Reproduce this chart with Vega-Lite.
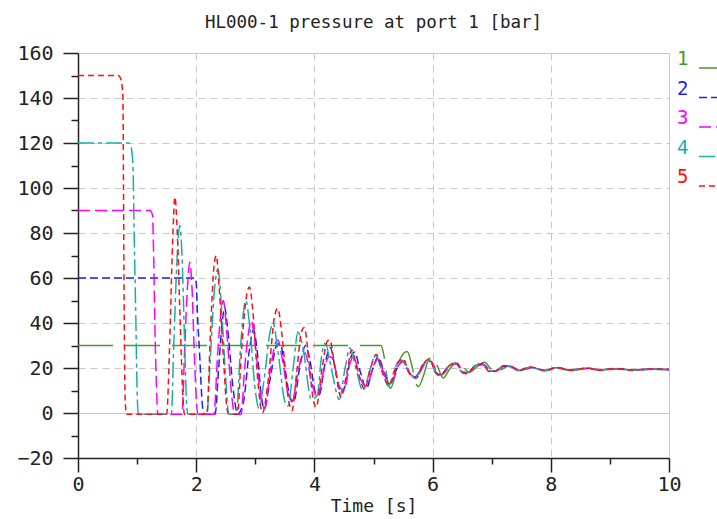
{
"$schema": "https://vega.github.io/schema/vega-lite/v6.json",
"autosize": "none",
"width": 591, "height": 405,
"padding": {"left": 78, "top": 53, "right": 48, "bottom": 61},
"background": "white",
"title": {"text": "HL000-1 pressure at port 1 [bar]", "font": "DejaVu Sans Mono", "fontSize": 17.5, "fontWeight": "normal", "color": "#222", "offset": 12, "anchor": "middle"},
"config": {"view": {"stroke": null}},
"data": {"values": [
{"s":"1","t":0,"p":30},{"s":"1","t":5.13,"p":30},{"s":"1","t":5.18,"p":25},{"s":"1","t":5.24,"p":14},{"s":"1","t":5.29,"p":11},{"s":"1","t":5.36,"p":16},{"s":"1","t":5.45,"p":24},{"s":"1","t":5.57,"p":27.3},{"s":"1","t":5.65,"p":21},{"s":"1","t":5.72,"p":13},{"s":"1","t":5.76,"p":11.7},{"s":"1","t":5.85,"p":17},{"s":"1","t":5.93,"p":23.5},{"s":"1","t":6.0,"p":25},{"s":"1","t":6.08,"p":21},{"s":"1","t":6.15,"p":16.5},{"s":"1","t":6.18,"p":15.6},{"s":"1","t":6.3,"p":20},{"s":"1","t":6.43,"p":22.9},{"s":"1","t":6.52,"p":20.5},{"s":"1","t":6.62,"p":18},{"s":"1","t":6.75,"p":20.5},{"s":"1","t":6.88,"p":22.6},{"s":"1","t":6.97,"p":20},{"s":"1","t":7.06,"p":17.8},{"s":"1","t":7.18,"p":19.5},{"s":"1","t":7.3,"p":21},{"s":"1","t":7.45,"p":18.8},{"s":"1","t":7.6,"p":19.6},{"s":"1","t":7.72,"p":20.3},{"s":"1","t":7.9,"p":18.8},{"s":"1","t":8.1,"p":20.1},{"s":"1","t":8.3,"p":19},{"s":"1","t":8.55,"p":19.9},{"s":"1","t":8.8,"p":19.1},{"s":"1","t":9.05,"p":19.7},{"s":"1","t":9.35,"p":19.1},{"s":"1","t":9.65,"p":19.5},{"s":"1","t":10,"p":19.3},
{"s":"2","t":0,"p":60},{"s":"2","t":1.98,"p":60},{"s":"2","t":2.0,"p":58},{"s":"2","t":2.02,"p":45},{"s":"2","t":2.06,"p":25},{"s":"2","t":2.1,"p":5},{"s":"2","t":2.13,"p":-0.5},{"s":"2","t":2.32,"p":-0.5},{"s":"2","t":2.38,"p":20},{"s":"2","t":2.44,"p":40},{"s":"2","t":2.48,"p":47},{"s":"2","t":2.53,"p":38},{"s":"2","t":2.62,"p":12},{"s":"2","t":2.68,"p":1},{"s":"2","t":2.7,"p":-0.5},{"s":"2","t":2.8,"p":5},{"s":"2","t":2.9,"p":28},{"s":"2","t":2.97,"p":37},{"s":"2","t":3.03,"p":28},{"s":"2","t":3.1,"p":8},{"s":"2","t":3.15,"p":2},{"s":"2","t":3.25,"p":15},{"s":"2","t":3.36,"p":30},{"s":"2","t":3.42,"p":31},{"s":"2","t":3.5,"p":20},{"s":"2","t":3.6,"p":6},{"s":"2","t":3.65,"p":5},{"s":"2","t":3.75,"p":20},{"s":"2","t":3.85,"p":30},{"s":"2","t":3.92,"p":24},{"s":"2","t":4.02,"p":9},{"s":"2","t":4.08,"p":8},{"s":"2","t":4.18,"p":22},{"s":"2","t":4.27,"p":29},{"s":"2","t":4.35,"p":20},{"s":"2","t":4.45,"p":9},{"s":"2","t":4.52,"p":12},{"s":"2","t":4.62,"p":25},{"s":"2","t":4.68,"p":27},{"s":"2","t":4.78,"p":18},{"s":"2","t":4.88,"p":11},{"s":"2","t":4.98,"p":19},{"s":"2","t":5.08,"p":25},{"s":"2","t":5.18,"p":18},{"s":"2","t":5.28,"p":13},{"s":"2","t":5.4,"p":20},{"s":"2","t":5.5,"p":23},{"s":"2","t":5.6,"p":18},{"s":"2","t":5.7,"p":16},{"s":"2","t":5.84,"p":21.5},{"s":"2","t":5.95,"p":23.5},{"s":"2","t":6.06,"p":18},{"s":"2","t":6.13,"p":16.8},{"s":"2","t":6.28,"p":21},{"s":"2","t":6.4,"p":22},{"s":"2","t":6.5,"p":18.2},{"s":"2","t":6.58,"p":17.8},{"s":"2","t":6.72,"p":21},{"s":"2","t":6.85,"p":21.8},{"s":"2","t":6.96,"p":18.6},{"s":"2","t":7.06,"p":18.6},{"s":"2","t":7.2,"p":20.8},{"s":"2","t":7.3,"p":20.8},{"s":"2","t":7.45,"p":19},{"s":"2","t":7.65,"p":20.3},{"s":"2","t":7.9,"p":18.9},{"s":"2","t":8.1,"p":20.1},{"s":"2","t":8.35,"p":19},{"s":"2","t":8.6,"p":19.9},{"s":"2","t":8.85,"p":19.1},{"s":"2","t":9.1,"p":19.7},{"s":"2","t":9.4,"p":19.1},{"s":"2","t":9.7,"p":19.5},{"s":"2","t":10,"p":19.3},
{"s":"3","t":0,"p":90},{"s":"3","t":1.22,"p":90},{"s":"3","t":1.26,"p":88},{"s":"3","t":1.28,"p":70},{"s":"3","t":1.3,"p":40},{"s":"3","t":1.33,"p":10},{"s":"3","t":1.35,"p":-0.5},{"s":"3","t":1.76,"p":-0.5},{"s":"3","t":1.8,"p":25},{"s":"3","t":1.85,"p":55},{"s":"3","t":1.89,"p":67},{"s":"3","t":1.93,"p":55},{"s":"3","t":1.97,"p":25},{"s":"3","t":2.01,"p":3},{"s":"3","t":2.03,"p":-0.5},{"s":"3","t":2.3,"p":-0.5},{"s":"3","t":2.36,"p":25},{"s":"3","t":2.42,"p":45},{"s":"3","t":2.46,"p":50},{"s":"3","t":2.52,"p":35},{"s":"3","t":2.6,"p":8},{"s":"3","t":2.65,"p":-0.5},{"s":"3","t":2.76,"p":-0.5},{"s":"3","t":2.82,"p":20},{"s":"3","t":2.9,"p":38},{"s":"3","t":2.93,"p":41},{"s":"3","t":3.0,"p":30},{"s":"3","t":3.1,"p":6},{"s":"3","t":3.16,"p":2},{"s":"3","t":3.25,"p":18},{"s":"3","t":3.34,"p":31},{"s":"3","t":3.38,"p":32.5},{"s":"3","t":3.45,"p":25},{"s":"3","t":3.56,"p":8},{"s":"3","t":3.62,"p":5},{"s":"3","t":3.72,"p":18},{"s":"3","t":3.8,"p":26},{"s":"3","t":3.84,"p":26.7},{"s":"3","t":3.95,"p":14},{"s":"3","t":4.05,"p":7},{"s":"3","t":4.15,"p":18},{"s":"3","t":4.25,"p":25},{"s":"3","t":4.3,"p":24.5},{"s":"3","t":4.42,"p":12},{"s":"3","t":4.5,"p":10},{"s":"3","t":4.6,"p":22},{"s":"3","t":4.66,"p":25},{"s":"3","t":4.78,"p":15},{"s":"3","t":4.88,"p":12},{"s":"3","t":5.0,"p":21},{"s":"3","t":5.08,"p":24},{"s":"3","t":5.2,"p":16},{"s":"3","t":5.3,"p":14},{"s":"3","t":5.42,"p":21},{"s":"3","t":5.52,"p":23},{"s":"3","t":5.62,"p":17.5},{"s":"3","t":5.72,"p":16},{"s":"3","t":5.86,"p":21.5},{"s":"3","t":5.97,"p":23},{"s":"3","t":6.08,"p":18},{"s":"3","t":6.15,"p":17},{"s":"3","t":6.3,"p":21},{"s":"3","t":6.42,"p":22},{"s":"3","t":6.52,"p":18.2},{"s":"3","t":6.6,"p":18},{"s":"3","t":6.75,"p":21},{"s":"3","t":6.87,"p":21.5},{"s":"3","t":6.98,"p":18.8},{"s":"3","t":7.08,"p":18.8},{"s":"3","t":7.22,"p":20.6},{"s":"3","t":7.33,"p":20.6},{"s":"3","t":7.48,"p":19},{"s":"3","t":7.68,"p":20.2},{"s":"3","t":7.92,"p":19},{"s":"3","t":8.12,"p":20},{"s":"3","t":8.38,"p":19},{"s":"3","t":8.62,"p":19.8},{"s":"3","t":8.88,"p":19.1},{"s":"3","t":9.12,"p":19.6},{"s":"3","t":9.42,"p":19.1},{"s":"3","t":9.72,"p":19.5},{"s":"3","t":10,"p":19.3},
{"s":"4","t":0,"p":120},{"s":"4","t":0.86,"p":120},{"s":"4","t":0.9,"p":118},{"s":"4","t":0.93,"p":110},{"s":"4","t":0.95,"p":80},{"s":"4","t":0.98,"p":40},{"s":"4","t":1.0,"p":10},{"s":"4","t":1.02,"p":-0.5},{"s":"4","t":1.58,"p":-0.5},{"s":"4","t":1.62,"p":30},{"s":"4","t":1.67,"p":65},{"s":"4","t":1.72,"p":83.5},{"s":"4","t":1.76,"p":70},{"s":"4","t":1.8,"p":35},{"s":"4","t":1.84,"p":3},{"s":"4","t":1.86,"p":-0.5},{"s":"4","t":2.18,"p":-0.5},{"s":"4","t":2.24,"p":25},{"s":"4","t":2.32,"p":58},{"s":"4","t":2.37,"p":64},{"s":"4","t":2.42,"p":50},{"s":"4","t":2.5,"p":15},{"s":"4","t":2.55,"p":-0.5},{"s":"4","t":2.68,"p":-0.5},{"s":"4","t":2.74,"p":25},{"s":"4","t":2.8,"p":45},{"s":"4","t":2.84,"p":50},{"s":"4","t":2.9,"p":40},{"s":"4","t":3.0,"p":10},{"s":"4","t":3.06,"p":2},{"s":"4","t":3.15,"p":15},{"s":"4","t":3.25,"p":36},{"s":"4","t":3.3,"p":40},{"s":"4","t":3.38,"p":28},{"s":"4","t":3.5,"p":5},{"s":"4","t":3.55,"p":3},{"s":"4","t":3.65,"p":22},{"s":"4","t":3.72,"p":36},{"s":"4","t":3.8,"p":30},{"s":"4","t":3.95,"p":6},{"s":"4","t":4.05,"p":8},{"s":"4","t":4.12,"p":25},{"s":"4","t":4.18,"p":31},{"s":"4","t":4.3,"p":18},{"s":"4","t":4.42,"p":6},{"s":"4","t":4.52,"p":20},{"s":"4","t":4.6,"p":29},{"s":"4","t":4.7,"p":20},{"s":"4","t":4.82,"p":10},{"s":"4","t":4.95,"p":20},{"s":"4","t":5.03,"p":26},{"s":"4","t":5.15,"p":18},{"s":"4","t":5.25,"p":12},{"s":"4","t":5.38,"p":21},{"s":"4","t":5.48,"p":23.5},{"s":"4","t":5.6,"p":18},{"s":"4","t":5.7,"p":15.5},{"s":"4","t":5.85,"p":22},{"s":"4","t":5.95,"p":23.5},{"s":"4","t":6.05,"p":18},{"s":"4","t":6.12,"p":16.8},{"s":"4","t":6.28,"p":21},{"s":"4","t":6.38,"p":22.2},{"s":"4","t":6.5,"p":18},{"s":"4","t":6.58,"p":17.8},{"s":"4","t":6.72,"p":21},{"s":"4","t":6.83,"p":21.8},{"s":"4","t":6.95,"p":18.8},{"s":"4","t":7.05,"p":18.6},{"s":"4","t":7.2,"p":20.8},{"s":"4","t":7.3,"p":20.8},{"s":"4","t":7.45,"p":18.9},{"s":"4","t":7.65,"p":20.3},{"s":"4","t":7.9,"p":18.9},{"s":"4","t":8.1,"p":20.2},{"s":"4","t":8.35,"p":19},{"s":"4","t":8.6,"p":19.9},{"s":"4","t":8.85,"p":19.1},{"s":"4","t":9.1,"p":19.7},{"s":"4","t":9.4,"p":19.1},{"s":"4","t":9.7,"p":19.5},{"s":"4","t":10,"p":19.3},
{"s":"5","t":0,"p":150},{"s":"5","t":0.68,"p":150},{"s":"5","t":0.73,"p":148},{"s":"5","t":0.76,"p":140},{"s":"5","t":0.77,"p":100},{"s":"5","t":0.78,"p":50},{"s":"5","t":0.8,"p":5},{"s":"5","t":0.82,"p":-0.5},{"s":"5","t":1.5,"p":-0.5},{"s":"5","t":1.55,"p":30},{"s":"5","t":1.6,"p":75},{"s":"5","t":1.64,"p":96},{"s":"5","t":1.68,"p":80},{"s":"5","t":1.73,"p":40},{"s":"5","t":1.78,"p":5},{"s":"5","t":1.8,"p":-0.5},{"s":"5","t":2.18,"p":-0.5},{"s":"5","t":2.24,"p":35},{"s":"5","t":2.3,"p":65},{"s":"5","t":2.34,"p":70},{"s":"5","t":2.39,"p":55},{"s":"5","t":2.46,"p":25},{"s":"5","t":2.52,"p":2},{"s":"5","t":2.55,"p":-0.5},{"s":"5","t":2.7,"p":-0.5},{"s":"5","t":2.76,"p":25},{"s":"5","t":2.84,"p":50},{"s":"5","t":2.9,"p":56},{"s":"5","t":2.96,"p":45},{"s":"5","t":3.04,"p":15},{"s":"5","t":3.12,"p":0},{"s":"5","t":3.22,"p":15},{"s":"5","t":3.32,"p":42},{"s":"5","t":3.38,"p":46.5},{"s":"5","t":3.45,"p":35},{"s":"5","t":3.55,"p":8},{"s":"5","t":3.62,"p":1},{"s":"5","t":3.7,"p":18},{"s":"5","t":3.78,"p":36},{"s":"5","t":3.83,"p":38},{"s":"5","t":3.9,"p":25},{"s":"5","t":3.98,"p":6},{"s":"5","t":4.03,"p":2.5},{"s":"5","t":4.12,"p":18},{"s":"5","t":4.22,"p":32},{"s":"5","t":4.26,"p":32.5},{"s":"5","t":4.35,"p":20},{"s":"5","t":4.45,"p":7},{"s":"5","t":4.55,"p":18},{"s":"5","t":4.63,"p":28},{"s":"5","t":4.72,"p":20},{"s":"5","t":4.85,"p":10.5},{"s":"5","t":4.95,"p":20},{"s":"5","t":5.05,"p":26},{"s":"5","t":5.15,"p":18},{"s":"5","t":5.27,"p":12.5},{"s":"5","t":5.4,"p":22},{"s":"5","t":5.5,"p":24},{"s":"5","t":5.6,"p":18},{"s":"5","t":5.72,"p":15.5},{"s":"5","t":5.85,"p":22},{"s":"5","t":5.95,"p":24},{"s":"5","t":6.05,"p":18},{"s":"5","t":6.12,"p":16.5},{"s":"5","t":6.28,"p":21},{"s":"5","t":6.4,"p":22.5},{"s":"5","t":6.5,"p":18},{"s":"5","t":6.58,"p":17.5},{"s":"5","t":6.72,"p":21},{"s":"5","t":6.85,"p":22},{"s":"5","t":6.95,"p":18.5},{"s":"5","t":7.05,"p":18.5},{"s":"5","t":7.2,"p":21},{"s":"5","t":7.3,"p":21},{"s":"5","t":7.45,"p":18.8},{"s":"5","t":7.65,"p":20.5},{"s":"5","t":7.9,"p":18.8},{"s":"5","t":8.1,"p":20.3},{"s":"5","t":8.35,"p":18.9},{"s":"5","t":8.6,"p":20},{"s":"5","t":8.85,"p":19},{"s":"5","t":9.1,"p":19.8},{"s":"5","t":9.4,"p":19},{"s":"5","t":9.7,"p":19.6},{"s":"5","t":10,"p":19.3}
]},
"mark": {"type": "line", "strokeWidth": 1.5, "interpolate": "monotone", "clip": true},
"encoding": {
 "x": {"field": "t", "type": "quantitative", "scale": {"domain": [0, 10], "nice": false, "zero": false},
  "axis": {"values": [0,1,2,3,4,5,6,7,8,9,10], "title": "Time [s]", "titleFont": "DejaVu Sans Mono", "titleFontSize": 18, "titleFontWeight": "normal", "titleColor": "#222", "titlePadding": 3,
   "labelExpr": "datum.value % 2 === 0 ? datum.label : ''", "labelFont": "DejaVu Sans Mono", "labelFontSize": 20, "labelColor": "#222", "labelPadding": 2, "labelFlush": false, "labelOverlap": false,
   "tickSize": {"condition": {"test": "datum.value % 2 === 0", "value": 14}, "value": 6}, "tickColor": "#222", "tickWidth": 1.5,
   "domainColor": "#222", "domainWidth": 1.5,
   "grid": true, "gridColor": "#c8c8c8", "gridWidth": 1,
   "gridOpacity": {"condition": {"test": "datum.value % 2 === 0 && datum.value > 0", "value": 1}, "value": 0},
   "gridDash": {"condition": {"test": "datum.value === 10", "value": []}, "value": [7, 5]}}},
 "y": {"field": "p", "type": "quantitative", "scale": {"domain": [-20, 160], "nice": false, "zero": false},
  "axis": {"values": [-20,-10,0,10,20,30,40,50,60,70,80,90,100,110,120,130,140,150,160], "title": null,
   "labelExpr": "datum.value % 20 === 0 ? datum.label : ''", "labelFont": "DejaVu Sans Mono", "labelFontSize": 20, "labelColor": "#222", "labelPadding": 10, "labelFlush": false, "labelOverlap": false,
   "tickSize": {"condition": {"test": "datum.value % 20 === 0", "value": 15}, "value": 7}, "tickColor": "#222", "tickWidth": 1.5,
   "domainColor": "#222", "domainWidth": 1.5,
   "grid": true, "gridColor": "#c8c8c8", "gridWidth": 1,
   "gridOpacity": {"condition": {"test": "datum.value % 20 === 0 && datum.value > -20", "value": 1}, "value": 0},
   "gridDash": {"condition": {"test": "datum.value === 0 || datum.value === 160", "value": []}, "value": [7, 5]}}},
 "color": {"field": "s", "type": "nominal",
  "scale": {"domain": ["1","2","3","4","5"], "range": ["#4a9a28", "#1f1fff", "#ff00ff", "#19adad", "#ff1010"]},
  "legend": {"title": null, "orient": "none", "legendX": 599, "legendY": -5, "padding": 0, "labelFont": "DejaVu Sans Mono", "labelFontSize": 19, "rowPadding": 6.5, "symbolType": "stroke", "symbolSize": 400, "symbolStrokeWidth": 1.5,
   "encode": {"labels": {"update": {"x": {"value": 0}, "fill": {"scale": "color", "field": "value"}}}, "symbols": {"update": {"x": {"value": 32}, "y": {"value": 20}}}}}},
 "strokeDash": {"field": "s", "type": "nominal",
  "scale": {"domain": ["1","2","3","4","5"], "range": [[35, 12], [8, 4], [12, 5], [16, 4, 4, 4], [6, 4]]},
  "legend": {"title": null, "orient": "none", "legendX": 599, "legendY": -5, "padding": 0, "labelFont": "DejaVu Sans Mono", "labelFontSize": 19, "rowPadding": 6.5, "symbolType": "stroke", "symbolSize": 400, "symbolStrokeWidth": 1.5,
   "encode": {"labels": {"update": {"x": {"value": 0}, "fill": {"scale": "color", "field": "value"}}}, "symbols": {"update": {"x": {"value": 32}, "y": {"value": 20}}}}}}
}
}
